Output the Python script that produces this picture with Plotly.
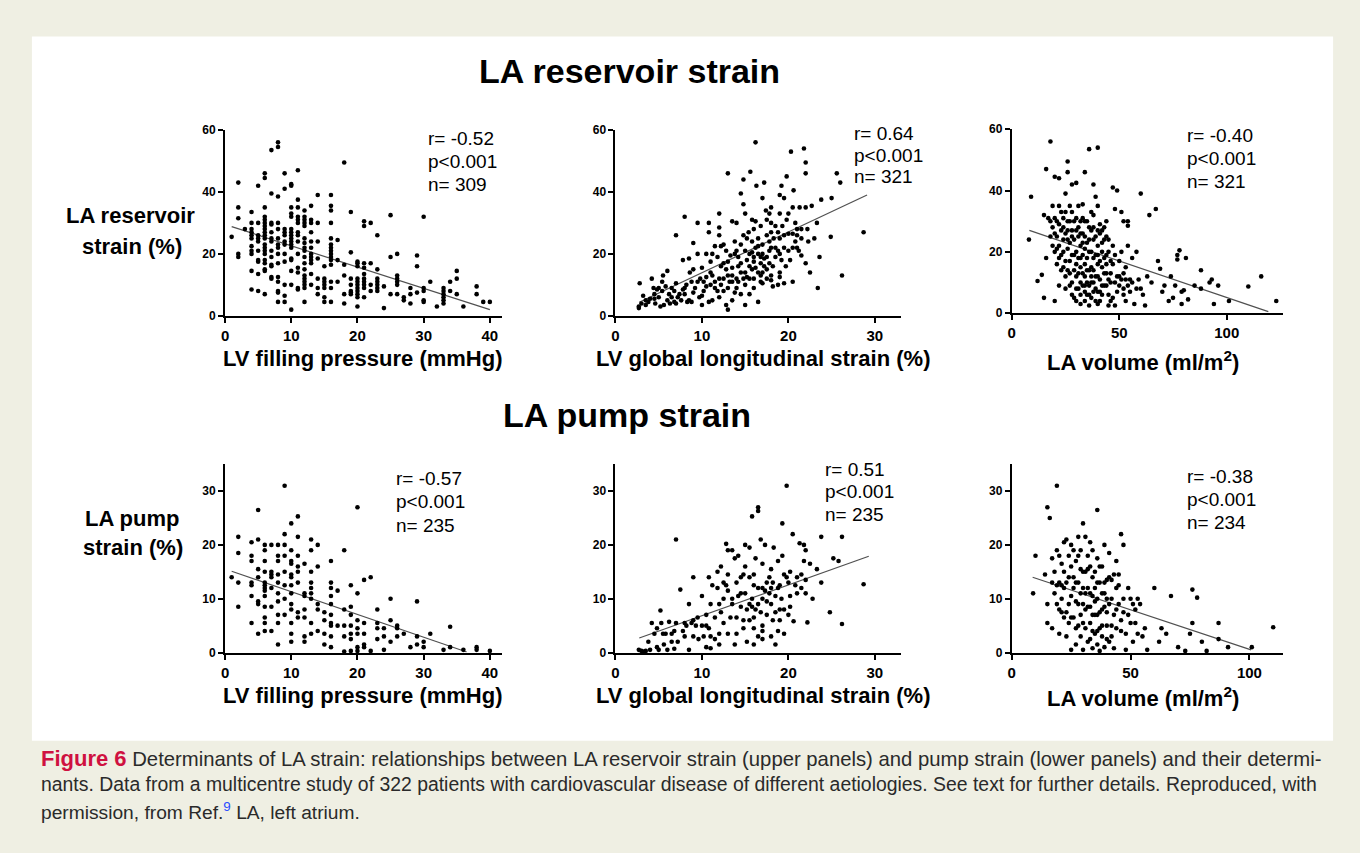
import plotly.graph_objects as go

W, H = 1360, 853

# ---------------- DATA ----------------
# LA reservoir strain vs LV filling pressure: (filling pressure, [strain values])
res_fp_columns = [
    (1, [25.5]),
    (2, [43, 35, 31.5, 20, 19]),
    (3, [28]),
    (4, [33.5, 30, 28, 27, 26, 25, 22.5, 21, 20, 14.5, 8.5]),
    (5, [42, 30, 26, 25, 24, 21, 18, 17.5, 13.5, 8]),
    (6, [46, 44.5, 35, 32, 31, 30, 29, 28, 27, 26, 25, 23, 22, 21, 20, 18, 17, 15, 14.5, 7]),
    (7, [53.5, 39.5, 30, 29.5, 27, 25, 24, 21, 19, 16.5, 16, 12.5, 12]),
    (8, [56, 54.5, 38.5, 30, 28, 25, 23, 22, 20, 17, 12.5, 11, 8, 7.5, 4.5]),
    (9, [46, 41, 28, 27, 26, 24, 23, 20, 17.5, 10, 6.5, 4.5]),
    (10, [42.5, 42, 35, 33, 32, 28, 27, 26, 25, 24, 23, 22, 18.5, 18, 14.5, 10, 2]),
    (11, [47, 37.5, 35, 32, 31, 30, 27, 26, 24, 20, 15.5, 14, 9, 8.5]),
    (12, [34, 32, 31, 30, 29, 25, 23.5, 22, 21, 19, 17, 15, 13, 12, 11, 10, 9, 4.5]),
    (13, [35.5, 31, 30, 27, 24, 22, 20, 19, 18, 17, 13.5, 10]),
    (14, [39, 30, 24, 18.5, 12, 9, 7]),
    (15, [16, 12, 11, 10, 9, 6, 4.5]),
    (16, [39, 35.5, 34, 30, 25, 23, 22, 21, 20, 19, 18, 16.5, 11, 9, 4.5]),
    (17, [24.5, 18, 11]),
    (18, [49.5, 16.5, 13, 7, 4]),
    (19, [33.5, 20.5, 12, 10, 8, 7.5, 7]),
    (20, [17.5, 17, 16, 12, 11, 10, 9, 8, 7, 6, 3]),
    (21, [30.5, 29, 17, 15.5, 13.5, 12, 11, 10, 9, 6]),
    (22, [30, 17, 10, 8]),
    (23, [26, 15, 12, 11, 10, 9, 8]),
    (24, [9.5, 2.5]),
    (25, [32.5, 19, 7]),
    (26, [20, 13, 12, 11, 10, 7]),
    (27, [6, 5]),
    (28, [9, 7, 4]),
    (29, [19.5, 16, 7.5]),
    (30, [32, 9, 8, 5, 4.5]),
    (31, [11]),
    (32, [3]),
    (33, [9, 8, 7, 6, 5, 4]),
    (34, [11, 8]),
    (35, [14.5, 12, 7]),
    (36, [3]),
    (38, [9.5, 7]),
    (39, [4.5]),
    (40, [4.5]),
]
res_fp_fit_x = [1, 40]
res_fp_fit_y = [28.8, 2.0]

# LA reservoir strain vs LV GLS: (GLS, strain)
res_gls_points = [
    (2.7, 2.5), (2.7, 3), (2.8, 10.5), (3, 4), (3.2, 6.5), (3.5, 5), (3.8, 4.5), (4, 5.5), (4.2, 12),
    (4.4, 9), (4.5, 7), (4.6, 4), (4.8, 8.5), (5, 9), (5.2, 3), (5.4, 11), (5.5, 13), (5.4, 8),
    (5.6, 3.5), (5.8, 9.5), (6, 14.5), (6.2, 7), (6.3, 4), (6.5, 9), (6.8, 8), (6.8, 4.5), (7, 26),
    (7, 10.5), (7.2, 6), (7.4, 7), (7.6, 5), (7.8, 18), (8, 32), (8, 7), (8.2, 10), (8.3, 4.5),
    (8.5, 18.5), (8.6, 14), (8.8, 4.5), (9, 23.5), (9, 15), (9.2, 9), (9.5, 30), (9.5, 20), (9.7, 6),
    (10, 15.5), (10, 6.5), (10.2, 8), (10.5, 12.5), (10.8, 27), (10.8, 30), (10.8, 4.5), (11, 10),
    (11, 17.5), (11.2, 13), (11.5, 22.5), (11.5, 9), (11.8, 19), (12, 28.5), (12, 33), (12, 26),
    (12.2, 16), (12.2, 10), (12.5, 8), (12.5, 12), (12.8, 21), (12.8, 3.5), (13, 46), (13, 17.5),
    (13, 2), (13, 13), (13.3, 19.5), (13.5, 30.5), (13.5, 11), (13.8, 7.5), (14, 30), (14, 21),
    (14, 12), (14.2, 16), (14.5, 39.5), (14.5, 23), (14.5, 14), (14.8, 44), (15, 33), (15, 21),
    (15, 10), (15, 3.5), (15.2, 18), (15.4, 27), (15.5, 7), (15.6, 46.5), (15.8, 31), (15.8, 24),
    (15.8, 15), (16, 19), (16, 12), (16.2, 56), (16.3, 42), (16.5, 25), (16.5, 20), (16.5, 4.5),
    (16.8, 29), (16.8, 17), (17, 38), (17, 23), (17, 10.5), (17.2, 43), (17.4, 34), (17.5, 26),
    (17.5, 15), (17.8, 21), (18, 35), (18, 30), (18, 11.5), (18.3, 25), (18.5, 19), (18.8, 27),
    (18.8, 10), (19, 39), (19, 33), (19, 14), (19.2, 42), (19.3, 29), (19.5, 22), (19.5, 38),
    (19.5, 10.5), (19.7, 16), (19.8, 45), (20, 26.5), (20, 33), (20.3, 53), (20.5, 22), (20.6, 40.5),
    (20.8, 30), (21, 26), (21.3, 35), (21.5, 19.5), (21.5, 25), (21.8, 54), (22, 46), (22, 49.5),
    (22, 35), (22, 17), (22.3, 24), (22.5, 14), (22.7, 35.5), (23.3, 30), (23, 25), (23.6, 19),
    (23.4, 9), (23.8, 37.5), (24.9, 25.5), (25, 38), (25.6, 46), (26, 43), (26.2, 13), (28.7, 27),
    (11.2, 20), (12.5, 17), (13.8, 24), (14.2, 19), (15.2, 12.5), (15.5, 16), (16.2, 22), (16.8, 13),
    (17.2, 18.5), (17.8, 24), (18.2, 16), (18.5, 22), (14.8, 26), (13.5, 15.5), (12.2, 22.5),
    (10.5, 20), (9.8, 12), (8.8, 11), (16, 28), (17.5, 31), (19, 20), (20.2, 18), (21, 28),
    (10.2, 11), (10.5, 9.5), (11, 14), (11.5, 11), (11.8, 8), (12, 12), (12.5, 23), (12.8, 15),
    (13, 9), (13.2, 11), (13.5, 13), (13.8, 20), (14, 9), (14.2, 11), (14.5, 17), (14.8, 12),
    (15, 14), (15.2, 25), (15.5, 20), (15.8, 20.5), (16, 17.5), (16.2, 15.5), (16.5, 14), (16.5, 22.5),
    (16.8, 19), (17, 20), (17, 14), (17.2, 16), (17.5, 19), (17.8, 17), (18, 22), (18, 13), (18.5, 29),
    (18.8, 21), (19, 25), (19.2, 18), (19.5, 26), (20, 21), (20.5, 26.5), (20.8, 24), (21, 22),
    (21.5, 28), (8, 9), (8.5, 5), (9, 7.5), (7, 4), (6, 5), (5, 6), (4.5, 5.5), (3.5, 3.5), (6.5, 6),
    (7.8, 8.5), (9.5, 11), (10, 3.5), (11.2, 5), (12, 6), (13.5, 5), (14.5, 7), (15.5, 12), (16, 9),
    (16.8, 11), (17.5, 12), (18.2, 9.5), (19, 12.5), (20.5, 11), (18, 27), (16.2, 30.5), (14.8, 36),
    (17.8, 33), (19.8, 31), (20.5, 35), (22.2, 28), (21.2, 21),
]
res_gls_fit_x = [2.75, 29.1]
res_gls_fit_y = [4.4, 39.0]

# LA reservoir strain vs LA volume: (volume, strain)
res_lav_points = [
    (8, 24), (9, 38), (12, 10.5), (14, 12.5), (15, 5), (15, 32), (16, 18), (16, 47), (18, 56), (18, 25),
    (19, 35), (20, 44.5), (20, 20), (20, 4), (22, 44), (22, 29), (23, 19), (24, 15), (24, 31), (25, 39),
    (25, 8), (26, 46), (26, 49.5), (26, 27), (27, 35), (27, 23), (27, 17), (28, 42), (28, 10), (29, 30),
    (29, 5), (30, 20), (30, 12), (30, 42.5), (31, 28), (31, 8), (32, 3), (32, 22), (32, 15), (33, 26),
    (33, 35.5), (33, 31), (34, 46), (34, 21), (34, 7), (35, 18), (35, 10), (36, 53.5), (36, 28), (37, 15),
    (37, 5), (38, 42), (38, 32), (38, 24), (38, 10), (39, 38), (39, 19), (40, 54), (40, 35), (40, 12),
    (40, 7), (41, 26), (41, 4), (42, 23), (42, 15), (43, 28), (43, 9), (44, 25), (44, 19), (45, 11),
    (45, 6), (46, 4), (47, 41), (47, 22), (47, 16), (48, 34), (48, 2.5), (49, 40), (49, 12), (50, 9),
    (51, 33), (51, 20), (52, 30), (52, 13), (53, 4), (54, 22), (54, 30), (54, 28.5), (55, 11), (55, 7),
    (56, 18), (57, 3), (58, 20), (59, 11), (60, 39), (60, 8), (61, 6), (62, 2.5), (63, 12), (64, 32),
    (65, 10), (67, 34), (68, 17), (69, 14.5), (70, 7), (71, 9), (73, 4), (74, 12), (75, 5), (76, 9),
    (77, 19), (77, 17.5), (78, 20.5), (79, 3), (79, 7), (80, 7.5), (81, 18), (82, 4.5), (85, 9), (88, 14),
    (88, 8), (92, 10), (93, 11), (94, 3), (96, 9), (101, 4), (110, 8.7), (116, 12), (123, 4),
    (20, 26), (21, 30), (22, 22), (23, 27), (24, 20), (25, 26), (25, 12), (26, 30), (27, 9), (28, 25),
    (28, 19), (29, 14), (30, 27), (30, 8), (31, 18), (31, 25), (32, 10), (32, 30), (33, 13), (33, 19),
    (34, 12), (34, 25), (35, 6), (35, 30), (36, 20), (36, 9), (37, 27), (37, 12), (38, 7), (38, 18),
    (39, 25), (39, 8), (40, 22), (40, 16), (41, 11), (42, 20), (42, 6), (43, 18), (44, 13), (46, 10),
    (48, 19), (50, 12), (52, 8), (53, 15), (36, 14), (34, 16), (32, 6), (30, 16), (28, 6), (26, 14),
    (24, 24), (22, 18), (44, 30), (41, 29), (18, 30), (19, 28), (21, 21), (17, 31), (23, 33), (45, 20),
    (19, 22), (21, 25), (22, 9), (23, 14), (24, 28), (25, 17), (26, 21), (27, 30), (28, 33), (29, 24),
    (29, 19), (30, 4), (31, 13), (31, 35), (32, 26), (32, 18), (33, 9), (33, 23), (34, 30), (34, 4),
    (35, 23), (35, 14), (36, 6), (36, 24), (37, 20), (37, 33), (38, 14), (38, 28), (39, 12), (39, 4),
    (40, 27), (40, 19), (41, 7), (41, 17), (42, 9), (42, 27), (43, 13), (43, 24), (44, 9), (44, 16),
    (45, 24), (46, 17), (46, 13), (48, 10), (49, 7), (50, 17), (51, 11), (52, 6), (53, 11), (54, 9),
    (56, 10), (58, 8), (47, 5), (45, 2.5), (40, 3), (36, 2.5), (30, 31), (26, 24), (25, 33), (22, 35),
    (21, 16), (20, 31), (27, 13), (28, 27), (34, 9), (37, 10),
]
res_lav_fit_x = [8.2, 119.3]
res_lav_fit_y = [27.0, 0.5]

# LA pump strain vs LV filling pressure: (filling pressure, [strain values])
pump_fp_columns = [
    (1, [14]),
    (2, [21.5, 18.5, 13, 8.5]),
    (4, [20.5, 18, 17, 13, 12.5, 10.5, 5.5]),
    (5, [26.5, 21, 15.5, 14, 9.5, 9, 3.5]),
    (6, [20, 19, 17, 15, 13, 12.5, 12, 11.5, 10.5, 8.5, 6.5, 5.5, 4]),
    (7, [20, 15, 14.5, 14, 12, 8.5, 4]),
    (8, [20, 18, 17, 14.5, 13, 11, 9.5, 7, 5.5, 1.5]),
    (9, [31, 22, 20, 18, 15, 12.5, 10, 7]),
    (10, [24, 19, 17, 16.5, 14.5, 14, 12.5, 11, 9, 8, 5.5, 3.5, 2]),
    (11, [25.3, 21.5, 18, 16, 15, 13, 7.5, 6.5]),
    (12, [16.5, 11, 10.5, 8, 6.5, 3, 2]),
    (13, [21, 19, 15, 13, 12, 11, 10, 5.5, 3.5]),
    (14, [20, 16, 9, 8, 4]),
    (15, [7.5, 6, 3.5, 1.5]),
    (16, [17, 13, 12, 10.5, 9, 7, 5.5, 5, 3, 1]),
    (17, [11.5, 5]),
    (18, [19, 8, 5, 3, 0.2]),
    (19, [12.5, 8.5, 7, 5, 3.5, 2.5, 0.3]),
    (20, [27, 11, 6, 4.5, 3.5, 1, 0.3]),
    (21, [13.5, 5.5, 3.5, 1.5, 1]),
    (22, [14, 0.3]),
    (23, [8, 5.5, 4.5, 2.5]),
    (24, [4.5, 3, 0.5]),
    (25, [10, 6, 2]),
    (26, [5, 4.5, 3]),
    (27, [3.5]),
    (28, [1]),
    (29, [9.5, 3, 1.5]),
    (30, [2, 1]),
    (31, [3.5]),
    (33, [0.5]),
    (34, [4.8, 1]),
    (36, [0.5]),
    (38, [1, 0.5]),
    (40, [0.3]),
]
pump_fp_fit_x = [1, 36.5]
pump_fp_fit_y = [15.1, 0.1]

# LA pump strain vs LV GLS: (GLS, strain)
pump_gls_points = [
    (2.7, 0.5), (3, 0.3), (3.2, 0.2), (3.5, 0.3), (3.8, 2), (4, 0.5), (4.2, 5.5), (4.5, 3.5), (4.8, 4.5),
    (4.8, 1), (5, 0.5), (5.2, 7.8), (5.3, 5.5), (5.5, 3.5), (5.6, 1.5), (6, 0.5), (6.2, 5.7), (6.5, 3.5),
    (6.8, 4), (6.8, 0.7), (7, 21), (7.2, 2), (7.5, 11.7), (8, 3), (8.2, 5), (8.5, 9), (8.5, 0.5),
    (8.8, 5.5), (9, 14), (9, 3), (9.3, 5), (9.6, 2.5), (10, 10.5), (10, 5), (10.5, 7), (10.5, 1),
    (10.8, 14), (10.8, 4.5), (11, 0.8), (11.2, 12.5), (11.5, 6.5), (11.5, 2.5), (11.8, 15), (12, 9),
    (12.2, 16), (12.5, 5.5), (12.5, 10), (12.8, 20.2), (12.8, 12.5), (13, 19), (13, 3.5), (13.3, 6.5),
    (13.5, 19), (13.5, 9), (13.8, 1.5), (14, 13), (14, 3.5), (14.2, 18), (14.5, 8.5), (14.8, 4.5),
    (14.8, 14.5), (15, 20), (15, 11), (15.2, 2), (15.5, 19.5), (15.5, 6), (15.8, 25.3), (15.8, 10),
    (16, 14.5), (16, 4.5), (16.2, 17.5), (16.2, 8), (16.5, 27), (16.5, 26.3), (16.5, 12), (16.5, 3),
    (16.8, 21), (17, 16.5), (17, 10), (17, 5), (17.3, 20), (17.5, 13), (17.5, 7), (17.8, 11), (18, 15.5),
    (18, 9), (18, 3), (18.3, 19.5), (18.5, 10.5), (18.5, 1.5), (18.8, 17), (19, 12.5), (19, 8),
    (19.3, 24), (19.3, 18), (19.5, 14.5), (19.5, 8), (19.5, 3.5), (19.8, 31), (20, 13), (20, 7),
    (20.2, 15), (20.5, 22), (20.6, 5.8), (21, 14), (21, 11), (21.3, 20.3), (21.5, 12), (21.8, 20),
    (21.8, 17), (22, 19), (22, 13.5), (22.2, 5.6), (22.5, 16.5), (22.8, 10), (23.3, 15.5), (23.8, 21.5),
    (23.8, 13), (24.8, 7.5), (25.2, 17.5), (25.8, 17), (26.2, 21.5), (26.2, 5.3), (28.7, 12.7),
    (12.2, 7.5), (13, 11.5), (14.5, 11), (15.5, 9), (16.8, 7.5), (17.3, 11.5), (18.2, 6), (18.8, 12),
    (19.2, 10), (20.2, 10.5), (14, 6.5), (15, 16), (16, 12.5), (17.8, 14), (13.8, 17.5), (11, 9),
    (9.5, 6.5), (10.2, 3), (12, 1.5), (15.8, 8.5), (17, 2.5), (18.8, 4),
    (11, 3), (11.8, 12), (12.5, 13), (13.5, 10), (14.2, 10.5), (14.8, 6), (15.2, 8), (15.5, 14),
    (16, 6.5), (16.5, 9), (17, 12), (17.5, 9.5), (18, 12), (18.2, 13), (18.5, 7.5), (19, 6), (19.8, 14),
    (20.2, 8.5), (20.8, 12.5), (21.5, 14.5), (22, 11), (17, 4), (16, 1.5), (14.5, 14), (13, 14.5),
    (12, 3.5), (10.5, 5), (9, 6), (8, 5.5), (7.8, 4), (6.5, 2), (5.8, 3.5), (7, 5.5),
]
pump_gls_fit_x = [2.75, 29.3]
pump_gls_fit_y = [2.7, 17.9]

# LA pump strain vs LA volume: (volume, strain)
pump_lav_points = [
    (9, 11), (10, 18), (14, 14.5), (15, 9), (15, 5.5), (15, 27), (16, 25), (17, 17.5), (17, 13), (17, 4.5),
    (18, 11), (19, 31), (19, 19), (20, 13), (20, 8), (20, 3.5), (21, 16.5), (21, 7.5), (22, 20.5), (22, 12),
    (23, 21), (23, 3), (24, 14), (24, 5.5), (25, 0.5), (25, 10.5), (26, 19), (26, 14), (26, 6.5), (27, 1.5),
    (27, 17), (28, 21.5), (28, 13), (28, 5), (29, 15.5), (29, 7), (30, 24), (30, 9), (30, 0.5), (31, 21.5),
    (31, 15), (31, 4.5), (32, 12), (32, 8.5), (32, 2), (33, 20.5), (33, 16), (33, 11), (33, 5.5), (34, 19),
    (34, 14), (34, 7), (34, 0.8), (35, 12), (35, 3.5), (36, 26.5), (36, 17.5), (36, 10), (36, 4), (37, 13),
    (37, 7.5), (37, 0.3), (38, 11), (38, 3), (39, 20), (39, 8.5), (39, 1), (40, 13.5), (40, 5), (41, 18.5),
    (41, 14), (41, 2), (42, 10), (42, 5), (43, 14.5), (43, 0.8), (44, 17), (44, 8), (45, 9), (46, 22),
    (46, 4), (47, 20), (47, 10), (48, 0.5), (49, 12), (49, 7), (50, 5.5), (51, 9), (51, 2), (52, 8),
    (53, 10), (53, 3.5), (55, 3), (56, 4.5), (57, 0.5), (60, 12), (62, 2), (63, 4.5), (65, 3.5), (67, 10.5),
    (70, 1), (73, 0.3), (75, 3.5), (76, 11.7), (76, 5.5), (78, 10.2), (80, 2), (82, 0.3), (87, 5.5),
    (87, 2.5), (91, 1), (101, 1), (110, 4.7),
    (19, 9), (21, 12.5), (22, 6.5), (24, 18), (25, 16), (27, 9.5), (28, 18), (29, 11), (30, 15),
    (31, 8), (32, 18), (33, 8.5), (34, 10.5), (35, 15), (35, 7), (36, 13), (37, 4.5), (38, 16),
    (38, 8), (39, 13), (40, 10), (40, 2.5), (42, 13.5), (44, 4.5), (45, 12.5),
    (18, 15), (19, 12.5), (20, 18), (21, 10), (22, 15), (23, 13), (24, 9), (25, 20), (25, 6.5), (26, 12),
    (27, 4.5), (28, 9), (29, 19), (29, 3), (30, 12), (30, 5.5), (31, 11), (32, 15.5), (33, 2.5), (34, 4),
    (35, 9.5), (36, 7), (36, 1.5), (37, 16), (38, 5), (39, 11), (40, 7.5), (41, 9), (42, 3), (43, 7),
    (44, 12), (45, 14.5), (46, 6), (47, 7.5), (48, 3.5), (50, 10), (52, 5.5), (54, 9), (27, 13), (23, 7.5),
]
pump_lav_fit_x = [8.8, 100.7]
pump_lav_fit_y = [14.0, 0.5]

panel_r = ["-0.52", "0.64", "-0.40", "-0.57", "0.51", "-0.38"]
panel_p = ["p<0.001"] * 6
panel_n = ["309", "321", "321", "235", "235", "234"]

fp_ticks = [0, 10, 20, 30, 40]
gls_ticks = [0, 10, 20, 30]
lav_ticks = [0, 50, 100]
res_ticks = [0, 20, 40, 60]
pump_ticks = [0, 10, 20, 30]

x_titles = ["LV filling pressure (mmHg)", "LV global longitudinal strain (%)", "LA volume (ml/m<sup>2</sup>)"]
row_titles = ["LA reservoir strain", "LA pump strain"]
y_titles = [["LA reservoir", "strain (%)"], ["LA pump", "strain (%)"]]

caption_label = "Figure 6"
caption_lines = [
    "Determinants of LA strain: relationships between LA reservoir strain (upper panels) and pump strain (lower panels) and their determi-",
    "nants. Data from a multicentre study of 322 patients with cardiovascular disease of different aetiologies. See text for further details. Reproduced, with",
    "permission, from Ref.",
]
caption_ref = "9"
caption_tail = " LA, left atrium."


def expand_columns(cols):
    xs, ys = [], []
    for xv, yl in cols:
        for yv in yl:
            xs.append(xv)
            ys.append(yv)
    return xs, ys


def unzip(points):
    return [p[0] for p in points], [p[1] for p in points]


series = [
    (expand_columns(res_fp_columns), (res_fp_fit_x, res_fp_fit_y)),
    (unzip(res_gls_points), (res_gls_fit_x, res_gls_fit_y)),
    (unzip(res_lav_points), (res_lav_fit_x, res_lav_fit_y)),
    (expand_columns(pump_fp_columns), (pump_fp_fit_x, pump_fp_fit_y)),
    (unzip(pump_gls_points), (pump_gls_fit_x, pump_gls_fit_y)),
    (unzip(pump_lav_points), (pump_lav_fit_x, pump_lav_fit_y)),
]

# ---------------- LAYOUT (pixel geometry) ----------------
def fx(p):
    return p / W


def fy(p):
    return 1 - p / H


FONT = "Liberation Sans, Arial, Helvetica, sans-serif"

# x pixel start, px per unit, range end ; y pixel of zero, px per unit, range end
geom = [
    dict(x0=221.7, xs=6.64, xe=41.8, y0=314.0, ys=3.15, ye=60, xt=fp_ticks, yt=res_ticks),
    dict(x0=613.3, xs=8.67, xe=33.0, y0=314.0, ys=3.15, ye=60, xt=gls_ticks, yt=res_ticks),
    dict(x0=1010.7, xs=2.157, xe=126, y0=311.3, ys=3.117, ye=60, xt=lav_ticks, yt=res_ticks),
    dict(x0=221.7, xs=6.64, xe=41.8, y0=656.3, ys=5.47, ye=35, xt=fp_ticks, yt=pump_ticks),
    dict(x0=613.3, xs=8.67, xe=33.0, y0=656.3, ys=5.47, ye=35, xt=gls_ticks, yt=pump_ticks),
    dict(x0=1010.7, xs=2.384, xe=114, y0=656.3, ys=5.47, ye=35, xt=lav_ticks, yt=pump_ticks),
]

fig = go.Figure()
layout = dict(
    width=W, height=H,
    margin=dict(l=0, r=0, t=0, b=0),
    paper_bgcolor="#efefe3",
    plot_bgcolor="rgba(0,0,0,0)",
    showlegend=False,
    font=dict(family=FONT, color="black"),
)

for i, (g, ((sx, sy), (lx, ly))) in enumerate(zip(geom, series)):
    k = "" if i == 0 else str(i + 1)
    xa, ya = "x" + k, "y" + k
    fig.add_trace(go.Scatter(x=lx, y=ly, mode="lines", xaxis=xa, yaxis=ya,
                             line=dict(color="#505050", width=1.2), hoverinfo="skip"))
    fig.add_trace(go.Scatter(x=sx, y=sy, mode="markers", xaxis=xa, yaxis=ya, cliponaxis=False,
                             marker=dict(size=4.6, color="black", line=dict(width=0))))
    x_end = g["x0"] + g["xe"] * g["xs"]
    y_top = g["y0"] - g["ye"] * g["ys"]
    common = dict(showline=True, linecolor="black", linewidth=2, ticks="outside", ticklen=5,
                  tickwidth=2, tickcolor="black", showgrid=False, zeroline=False, fixedrange=True)
    layout["xaxis" + k] = dict(domain=[fx(g["x0"]), fx(x_end)], range=[0, g["xe"]], anchor=ya,
                               tickvals=g["xt"], tickfont=dict(family=FONT, size=15, weight="bold"),
                               **common)
    layout["yaxis" + k] = dict(domain=[fy(g["y0"]), fy(y_top)], range=[0, g["ye"]], anchor=xa,
                               tickvals=g["yt"], tickfont=dict(family=FONT, size=12, weight="bold"),
                               **common)

annotations = []


def ann(text, x, y, size, bold=False, xanchor="center", color="black", yanchor="middle"):
    annotations.append(dict(text=text, x=fx(x), y=fy(y), xref="paper", yref="paper",
                            xanchor=xanchor, yanchor=yanchor, showarrow=False,
                            font=dict(family=FONT, size=size, color=color,
                                      weight="bold" if bold else "normal")))


# row titles
ann(row_titles[0], 627, 65, 34, bold=True)
ann(row_titles[1], 625, 415, 34, bold=True)

# y-axis titles
ann(y_titles[0][0], 127, 212, 22, bold=True)
ann(y_titles[0][1], 128, 243, 22, bold=True)
ann(y_titles[1][0], 129, 520, 22, bold=True)
ann(y_titles[1][1], 129, 550, 22, bold=True)

# x-axis titles
xt_pos = [(360, 357), (761, 357), (1142, 360), (360, 700), (761, 700), (1142, 702)]
for i, (px_, py_) in enumerate(xt_pos):
    ann(x_titles[i % 3], px_, py_, 22, bold=True)

# statistics
stat_pos = [(423, 134, 23), (850, 129, 21.5), (1184, 131, 23), (391, 479, 24), (821, 470, 23), (1184, 477, 23.5)]
for i, (sx_, sy_, dy) in enumerate(stat_pos):
    ann("r= " + panel_r[i], sx_, sy_, 19, xanchor="left")
    ann(panel_p[i], sx_, sy_ + dy, 19, xanchor="left")
    ann("n= " + panel_n[i], sx_, sy_ + 2 * dy, 19, xanchor="left")

# caption
CAP = "#2a2a2a"
ann("<span style='color:#cf1140;font-size:22px'><b>" + caption_label + "</b></span> " + caption_lines[0],
    35, 764, 20.3, xanchor="left", color=CAP)
ann(caption_lines[1], 35, 790, 19.4, xanchor="left", color=CAP)
ann(caption_lines[2] + "<sup><span style='color:#2a4bff'>" + caption_ref + "</span></sup>" + caption_tail,
    35, 817, 19.2, xanchor="left", color=CAP)

layout["annotations"] = annotations
layout["shapes"] = [dict(type="rect", xref="paper", yref="paper", x0=fx(28), x1=fx(1333),
                         y0=fy(746), y1=fy(30), fillcolor="white", line=dict(width=0), layer="below")]

fig.update_layout(**layout)
fig.write_html("out.html", config={"displayModeBar": False},
               post_script="document.body.style.margin='0';document.body.style.overflow='hidden';")
